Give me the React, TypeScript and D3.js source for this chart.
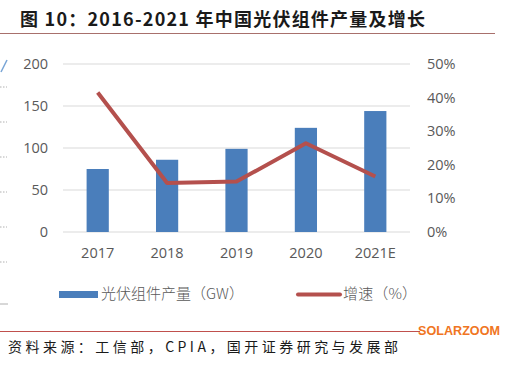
import React, { useEffect, useRef } from 'react'
import * as d3 from 'd3'

const years = ['2017', '2018', '2019', '2020', '2021E']
const output = [75, 86, 99, 124, 144]
const growth = [0.415, 0.146, 0.15, 0.264, 0.165]
const leftTicks = [0, 50, 100, 150, 200]
const rightTicks = [0, 0.1, 0.2, 0.3, 0.4, 0.5]

const W = 520
const H = 366
const BLUE = '#4a7ebb'
const RED = '#b4504d'
const AXIS_FONT = "'Open Sans', 'Liberation Sans', sans-serif"
const CJK = "'Noto Sans CJK SC', sans-serif"

const App = () => {
  const ref = useRef<SVGSVGElement>(null)

  useEffect(() => {
    const svg = d3.select(ref.current)
    svg.selectAll('*').remove()

    const left = 63
    const right = 410
    const top = 64
    const bottom = 232

    const x = d3.scaleBand().domain(years).range([left, right]).paddingInner(0.68).paddingOuter(0.34)
    const y0 = d3.scaleLinear().domain([0, 200]).range([bottom, top])
    const y1 = d3.scaleLinear().domain([0, 0.5]).range([bottom, top])

    // Title
    svg.append('text')
      .attr('x', 20).attr('y', 26)
      .attr('font-family', CJK).attr('font-weight', 'bold').attr('font-size', 18)
      .attr('fill', '#1a1a1a').attr('textLength', 405).attr('lengthAdjust', 'spacing')
      .text('图 10：2016-2021 年中国光伏组件产量及增长')
    svg.append('line')
      .attr('x1', 0).attr('x2', 495).attr('y1', 33.5).attr('y2', 33.5)
      .attr('stroke', '#a8706c').attr('stroke-width', 1.2)

    // stray marks from neighbouring chart at the left edge
    const edge = svg.append('g')
    d3.range(6).forEach(i => {
      edge.append('line')
        .attr('x1', 0).attr('x2', 7).attr('y1', 87 + i * 35).attr('y2', 87 + i * 35)
        .attr('stroke', '#b0b0b0').attr('stroke-dasharray', '1.5,1.5')
    })
    edge.append('line').attr('x1', 1).attr('x2', 7).attr('y1', 72).attr('y2', 60)
      .attr('stroke', '#7aa6d6').attr('stroke-width', 1.5)
    edge.append('line').attr('x1', 0).attr('x2', 8).attr('y1', 304).attr('y2', 304)
      .attr('stroke', '#b0b0b0')

    // Gridlines
    svg.append('g')
      .selectAll('line')
      .data(leftTicks)
      .join('line')
        .attr('x1', left).attr('x2', right)
        .attr('y1', d => y0(d)).attr('y2', d => y0(d))
        .attr('stroke', '#d9d9d9').attr('stroke-width', 1)

    // Left axis labels
    svg.append('g')
      .selectAll('text')
      .data(leftTicks)
      .join('text')
        .attr('x', 48).attr('y', d => y0(d)).attr('dy', '0.35em')
        .attr('text-anchor', 'end')
        .attr('font-family', AXIS_FONT).attr('font-size', 14.5).attr('fill', '#595959')
        .text(d => d)

    // Right axis labels
    svg.append('g')
      .selectAll('text')
      .data(rightTicks)
      .join('text')
        .attr('x', 427).attr('y', d => y1(d)).attr('dy', '0.35em')
        .attr('font-family', AXIS_FONT).attr('font-size', 14.5).attr('fill', '#595959')
        .text(d => d3.format('.0%')(d))

    // Bars
    svg.append('g')
      .selectAll('rect')
      .data(output)
      .join('rect')
        .attr('x', (d, i) => x(years[i]))
        .attr('y', d => y0(d))
        .attr('width', x.bandwidth())
        .attr('height', d => y0(0) - y0(d))
        .attr('fill', BLUE)

    // Growth line
    const line = d3.line<number>()
      .x((d, i) => x(years[i]) + x.bandwidth() / 2)
      .y(d => y1(d))
    svg.append('path')
      .datum(growth)
      .attr('d', line)
      .attr('fill', 'none')
      .attr('stroke', RED)
      .attr('stroke-width', 4)
      .attr('stroke-linejoin', 'round')

    // X labels
    svg.append('g')
      .selectAll('text')
      .data(years)
      .join('text')
        .attr('x', d => x(d) + x.bandwidth() / 2).attr('y', 253).attr('dy', '0.35em')
        .attr('text-anchor', 'middle')
        .attr('font-family', AXIS_FONT).attr('font-size', 14.5).attr('fill', '#595959')
        .text(d => d)

    // Legend
    const lg = svg.append('g')
    lg.append('rect').attr('x', 59).attr('y', 291).attr('width', 39).attr('height', 7).attr('fill', BLUE)
    lg.append('text')
      .attr('x', 101).attr('y', 294).attr('dy', '0.35em')
      .attr('font-family', CJK).attr('font-weight', 300).attr('font-size', 15).attr('fill', '#595959')
      .text('光伏组件产量（GW）')
    lg.append('line').attr('x1', 298).attr('x2', 340).attr('y1', 294.5).attr('y2', 294.5)
      .attr('stroke', RED).attr('stroke-width', 4).attr('stroke-linecap', 'round')
    lg.append('text')
      .attr('x', 343).attr('y', 294).attr('dy', '0.35em')
      .attr('font-family', CJK).attr('font-weight', 300).attr('font-size', 15).attr('fill', '#595959')
      .attr('textLength', 74)
      .text('增速（%）')

    // Footer
    svg.append('line')
      .attr('x1', 0).attr('x2', 420).attr('y1', 331.5).attr('y2', 331.5)
      .attr('stroke', '#c0504d').attr('stroke-width', 1)
    svg.append('text')
      .attr('x', 418).attr('y', 331).attr('dy', '0.35em')
      .attr('font-family', "'Liberation Sans', sans-serif").attr('font-weight', 'bold')
      .attr('font-size', 12).attr('fill', '#f07522').attr('textLength', 82).attr('lengthAdjust', 'spacingAndGlyphs')
      .text('SOLARZOOM')
    svg.append('text')
      .attr('x', 8).attr('y', 347).attr('dy', '0.35em')
      .attr('font-family', CJK).attr('font-size', 14).attr('fill', '#1a1a1a')
      .attr('textLength', 390).attr('lengthAdjust', 'spacing')
      .text('资料来源：工信部，CPIA，国开证券研究与发展部')
  })

  return (
    <svg
      ref={ref}
      width={W}
      height={H}
      style={{ position: 'absolute', left: 0, top: 0, background: '#fff' }}
    />
  )
}

export default App
